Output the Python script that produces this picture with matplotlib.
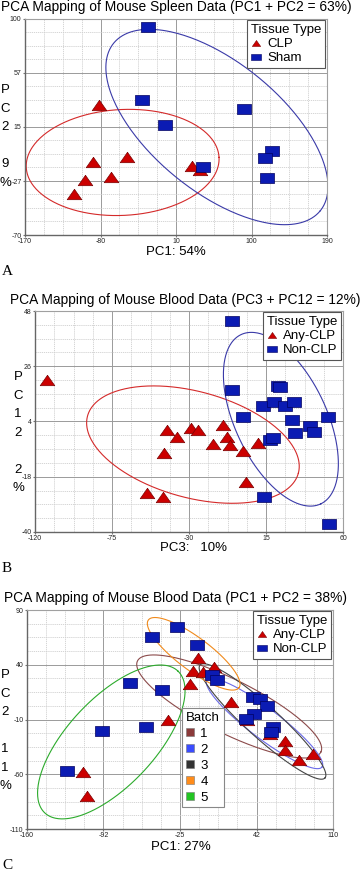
"""
Three PCA score plots (mouse spleen / blood) stacked in one tall figure.
"""

import numpy as np
import matplotlib.pyplot as plt
from matplotlib.lines import Line2D
from matplotlib.ticker import AutoMinorLocator

plt.rcParams["font.family"] = ["Liberation Sans", "DejaVu Sans"]

W, H = 364, 871

# ---- A: spleen, PC1 vs PC2 ----
a_clp_x = [-81.8, -89.3, -48.1, -98.1, -67.5, -111.2, 28.7, 38.6]
a_clp_y = [32.3, -12.3, -8.9, -26.7, -24.1, -38.0, -15.4, -18.8]
a_sham_x = [-23.0, -30.5, -3.1, 91.0, 124.8, 116.0, 118.0, 42.5]
a_sham_y = [93.9, 36.2, 16.6, 28.9, -3.6, -9.6, -25.4, -16.2]
a_xticks = [-170, -80, 10, 100, 190]
a_xlabels = ["-170", "-80", "10", "100", "190"]
a_yticks = [-70, -27.5, 15, 57.5, 100]
a_ylabels = ["-70", "-27", "15", "57", "100"]
# ellipse = centre x, centre y, semi-axis 1 (dx, dy), semi-axis 2 (dx, dy)
a_ell_clp = [-53.6, -12.9, 114.9, 4.0, 3.3, -41.6]
a_ell_sham = [58.8, 15.0, 123.2, -65.9, -48.5, -39.6]

# ---- B: blood, PC3 vs PC12 ----
b_clp_x = [-112.8, -42.7, -37.2, -44.4, -28.8, -24.6, -10.3, -7.9, -15.8, -6.0,
           1.7, 10.5, 3.3, -54.7, -45.0]
b_clp_y = [20.5, 0.6, -2.1, -8.7, 1.3, 0.6, 2.6, -2.1, -5.1, -5.4,
           -7.8, -4.7, -20.0, -24.6, -26.0]
b_non_x = [-4.7, -5.0, 1.7, 22.2, 23.2, 13.4, 19.7, 26.1, 31.5, 30.0,
           51.1, 40.7, 32.0, 43.1, 17.3, 19.3, 14.0, 52.0]
b_non_y = [44.0, 16.5, 5.7, 18.1, 17.6, 10.2, 11.9, 10.2, 11.9, 4.6,
           5.9, 2.2, -0.5, -0.1, -3.4, -2.7, -26.0, -37.0]
b_xticks = [-120, -75, -30, 15, 60]
b_xlabels = ["-120", "-75", "-30", "15", "60"]
b_yticks = [-40, -18, 4, 26, 48]
b_ylabels = ["-40", "-18", "4", "26", "48"]
b_ell_clp = [-27.7, -5.2, 61.6, -11.4, -8.1, -20.4]
b_ell_non = [23.7, 4.9, 23.3, -33.7, -24.2, -7.8]

# ---- C: blood, PC1 vs PC2, coloured by batch ----
c_clp_x = [-8.8, -13.8, -4.7, 5.0, -16.2, 19.6, -35.3, -110.3, -106.8, 34.1,
           54.0, 67.4, 67.4, 80.3, 92.6]
c_clp_y = [45.9, 34.3, 33.4, 38.2, 22.7, 6.4, -10.5, -58.2, -79.6, -10.5,
           -22.8, -29.6, -37.9, -47.4, -41.2]
c_non_x = [-27.9, -50.0, -9.7, -69.1, -41.1, 3.0, 7.9, 39.0, 45.2, 51.8,
           40.3, 33.2, 56.8, 54.9, -94.1, -55.3, -125.0]
c_non_y = [74.7, 65.1, 58.0, 23.6, 16.9, 30.6, 26.1, 10.8, 9.0, 2.5,
           -5.0, -9.1, -16.6, -21.4, -20.2, -16.6, -56.8]
c_xticks = [-160, -92.5, -25, 42.5, 110]
c_xlabels = ["-160", "-92", "-25", "42", "110"]
c_yticks = [-110, -60, -10, 40, 90]
c_ylabels = ["-110", "-60", "-10", "40", "90"]
batch_names = ["1", "2", "3", "4", "5"]
batch_colors = ["#8b3a3a", "#3a4cff", "#333333", "#ff8c1a", "#22c422"]
batch_ell_colors = ["#8b4a4a", "#6a6ae8", "#444444", "#f08a1c", "#2cab2c"]
c_ells = [
    [18.4, 1.9, 80.9, -41.6, -10.6, -22.0],
    [49.6, -13.7, 50.7, -39.7, -8.0, -11.0],
    [47.8, -11.8, 55.1, -51.6, -9.5, -10.9],
    [-12.9, 50.0, 40.0, -30.9, -8.6, -12.0],
    [-85.6, -30.5, 58.7, 64.8, 28.1, -27.2],
]

TRI = [(0, 1), (-1.4, -1), (1.4, -1), (0, 1)]
RECT = [(-1.5, -1), (1.5, -1), (1.5, 1), (-1.5, 1), (-1.5, -1)]
RED, RED_EDGE = "#cc0000", "#7a0000"
BLUE, BLUE_EDGE = "#0b1bb3", "#000060"
FS = 9.5
TITLE_FS = 9.9


def px_axes(fig, left, top, right, bottom):
    return fig.add_axes([left / W, 1 - bottom / H, (right - left) / W, (bottom - top) / H])


def ellipse(ax, e, color):
    t = np.linspace(0, 2 * np.pi, 300)
    x = e[0] + e[2] * np.cos(t) + e[4] * np.sin(t)
    y = e[1] + e[3] * np.cos(t) + e[5] * np.sin(t)
    ax.plot(x, y, color=color, lw=0.8, zorder=2)


def style_axes(ax, xticks, xlabels, yticks, ylabels):
    ax.set_xlim(xticks[0], xticks[-1])
    ax.set_ylim(yticks[0], yticks[-1])
    ax.set_xticks(xticks, xlabels)
    ax.set_yticks(yticks, ylabels)
    ax.xaxis.set_minor_locator(AutoMinorLocator(4))
    ax.yaxis.set_minor_locator(AutoMinorLocator(4))
    ax.grid(which="major", color="#9a9a9a", lw=0.7)
    ax.grid(which="minor", color="#cfcfcf", lw=0.6, ls=(0, (1.5, 1)))
    ax.set_axisbelow(True)
    ax.tick_params(which="major", labelsize=5, length=1.5, pad=1, color="#777777", labelcolor="#222222")
    ax.tick_params(which="minor", length=0)
    for side in ["left", "bottom"]:
        ax.spines[side].set_color("#666666")
        ax.spines[side].set_linewidth(1.0)
    for side in ["top", "right"]:
        ax.spines[side].set_color("#a0a0a0")
        ax.spines[side].set_linewidth(0.8)


def points(ax, clp_x, clp_y, non_x, non_y):
    ax.plot(clp_x, clp_y, ls="none", marker=TRI, ms=10.5, mfc=RED, mec=RED_EDGE, mew=0.5, zorder=3)
    ax.plot(non_x, non_y, ls="none", marker=RECT, ms=10, mfc=BLUE, mec=BLUE_EDGE, mew=0.5, zorder=4)


def tissue_legend(ax, labels):
    handles = [
        Line2D([], [], ls="none", marker=TRI, ms=6, mfc=RED, mec=RED_EDGE, mew=0.4),
        Line2D([], [], ls="none", marker=RECT, ms=7, mfc=BLUE, mec=BLUE_EDGE, mew=0.4),
    ]
    leg = ax.legend(handles, labels, title="Tissue Type", loc="upper right",
                    bbox_to_anchor=(0.995, 0.995), borderaxespad=0, fontsize=FS,
                    title_fontsize=FS, alignment="left", fancybox=False, framealpha=1,
                    edgecolor="#555555", borderpad=0.3, labelspacing=0.15,
                    handlelength=0.8, handletextpad=0.4)
    leg.get_frame().set_linewidth(0.8)
    leg.set_zorder(6)
    return leg


def side_label(fig, text, x, y_first, step=18.5):
    for i, ch in enumerate(text):
        fig.text(x / W, 1 - (y_first + i * step) / H, ch, ha="center", va="center", fontsize=FS)


def main():
    fig = plt.figure(figsize=(W / 100, H / 100), dpi=100)

    # A
    ax = px_axes(fig, 25, 19, 327, 235)
    ellipse(ax, a_ell_clp, "#d42a2a")
    ellipse(ax, a_ell_sham, "#3a3aa8")
    points(ax, a_clp_x, a_clp_y, a_sham_x, a_sham_y)
    style_axes(ax, a_xticks, a_xlabels, a_yticks, a_ylabels)
    tissue_legend(ax, ["CLP", "Sham"])
    fig.text(176 / W, 1 - 7 / H, "PCA Mapping of Mouse Spleen Data (PC1 + PC2 = 63%)",
             ha="center", va="center", fontsize=TITLE_FS)
    side_label(fig, "PC2 9%", 5, 90)
    fig.text(176 / W, 1 - 252 / H, "PC1: 54%", ha="center", va="center", fontsize=FS)
    fig.text(2 / W, 1 - 271 / H, "A", ha="left", va="center", fontsize=11, family="Liberation Serif")

    # B
    ax = px_axes(fig, 35, 311, 343, 532)
    ellipse(ax, b_ell_clp, "#d42a2a")
    ellipse(ax, b_ell_non, "#3a3aa8")
    points(ax, b_clp_x, b_clp_y, b_non_x, b_non_y)
    style_axes(ax, b_xticks, b_xlabels, b_yticks, b_ylabels)
    tissue_legend(ax, ["Any-CLP", "Non-CLP"])
    fig.text(185 / W, 1 - 300 / H, "PCA Mapping of Mouse Blood Data (PC3 + PC12 = 12%)",
             ha="center", va="center", fontsize=TITLE_FS)
    side_label(fig, "PC12 2%", 18, 377)
    fig.text(194 / W, 1 - 548 / H, "PC3:   10%", ha="center", va="center", fontsize=FS)
    fig.text(2 / W, 1 - 568 / H, "B", ha="left", va="center", fontsize=11, family="Liberation Serif")

    # C
    ax = px_axes(fig, 27, 610, 333, 829)
    for e, col in zip(c_ells, batch_ell_colors):
        ellipse(ax, e, col)
    points(ax, c_clp_x, c_clp_y, c_non_x, c_non_y)
    style_axes(ax, c_xticks, c_xlabels, c_yticks, c_ylabels)
    leg = tissue_legend(ax, ["Any-CLP", "Non-CLP"])
    ax.add_artist(leg)
    bh = [Line2D([], [], ls="none", marker="s", ms=5.5, mfc=c, mec="#777777", mew=0.4)
          for c in batch_colors]
    leg2 = ax.legend(bh, batch_names, title="Batch", loc="upper left",
                     bbox_to_anchor=(0.506, 0.553), borderaxespad=0, fontsize=FS,
                     title_fontsize=FS, alignment="left", fancybox=False, framealpha=1,
                     edgecolor="#888888", borderpad=0.3, labelspacing=0.28,
                     handlelength=0.6, handletextpad=0.5)
    leg2.get_frame().set_linewidth(0.8)
    leg2.set_zorder(6)
    fig.text(176 / W, 1 - 598 / H, "PCA Mapping of Mouse Blood Data (PC1 + PC2 = 38%)",
             ha="center", va="center", fontsize=TITLE_FS)
    side_label(fig, "PC2 11%", 5, 675)
    fig.text(181 / W, 1 - 847 / H, "PC1: 27%", ha="center", va="center", fontsize=FS)
    fig.text(2 / W, 1 - 865 / H, "C", ha="left", va="center", fontsize=11, family="Liberation Serif")

    fig.savefig("out.png", dpi=100)


if __name__ == "__main__":
    main()
